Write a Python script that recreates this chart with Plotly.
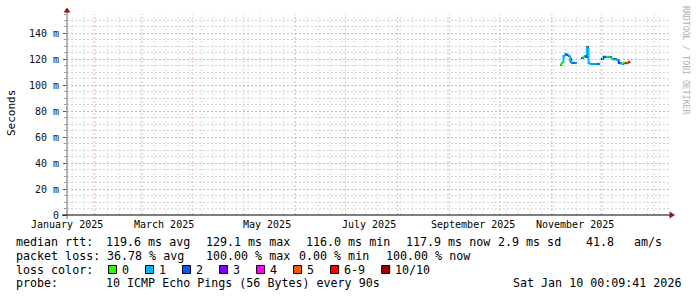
import pandas as pd
import plotly.graph_objects as go

# ---------------- data ----------------
start = pd.Timestamp("2025-01-15 21:00:00")
end = pd.Timestamp("2026-01-10 00:09:41")

month_labels = ["January 2025", "March 2025", "May 2025", "July 2025",
                "September 2025", "November 2025"]
month_label_dates = ["2025-01-15", "2025-03-15", "2025-05-15", "2025-07-15",
                     "2025-09-15", "2025-11-15"]

days = pd.date_range("2025-11-06", periods=42, freq="D")
median_ms = [116.0, 117.5, 122.5, 124.0, 123.5, 123.0, 119.0, 117.5, 117.3, 117.3,
             None, None, None, 121.0, 122.0, 122.3, 129.1, 117.5, 116.5, 116.5,
             116.5, 116.5, 116.5, 116.7, None, 120.5, 122.0, 122.0, 122.0, 122.0,
             121.5, 120.5, 120.0, 120.0, 119.5, 117.5, 117.0, 116.5, 117.5, 117.0,
             117.5, 117.9]
loss_count = [0, 0, 1, 1, 2, 1, 1, 1, 2, 1,
              10, 10, 10, 1, 0, 2, 1, 1, 1, 1,
              1, 1, 2, 1, 10, 0, 2, 1, 0, 0,
              1, 1, 1, 1, 1, 2, 1, 1, 0, 6,
              0, 6]
smoke_lo = [115.6, 117.1, 122.1, 123.6, 123.1, 122.6, 117.0, 117.1, 116.9, 116.9,
            None, None, None, 120.6, 121.6, 121.9, 121.0, 117.1, 116.1, 116.1,
            116.1, 116.1, 116.1, 116.3, None, 120.1, 121.6, 121.6, 121.6, 121.6,
            121.1, 120.1, 119.6, 119.6, 119.1, 117.1, 116.6, 116.1, 117.1, 116.6,
            117.1, 117.5]
smoke_hi = [116.4, 117.9, 122.9, 124.4, 123.9, 123.4, 121.0, 117.9, 117.7, 117.7,
            None, None, None, 121.4, 122.4, 122.7, 130.5, 117.9, 116.9, 116.9,
            116.9, 116.9, 116.9, 117.1, None, 120.9, 122.4, 122.4, 122.4, 122.4,
            121.9, 120.9, 120.4, 120.4, 119.9, 117.9, 117.4, 116.9, 117.9, 117.4,
            117.9, 118.3]

y_tick_vals = [0, 20, 40, 60, 80, 100, 120, 140]
y_tick_text = ["0", "20 m", "40 m", "60 m", "80 m", "100 m", "120 m", "140 m"]

loss_labels = ["0", "1", "2", "3", "4", "5", "6-9", "10/10"]
loss_colors = ["#26ff00", "#00b8ff", "#0059ff", "#7e00ff", "#ff00ff",
               "#ff5500", "#ff0000", "#a10000"]

rtt_stats = ["119.6 ms avg", "129.1 ms max", "116.0 ms min", "117.9 ms now",
             "2.9 ms sd", "41.8", "am/s"]
loss_stats = ["36.78 % avg", "100.00 % max", "0.00 % min", "100.00 % now"]
probe_text = "10 ICMP Echo Pings (56 Bytes) every 90s"
stamp_text = "Sat Jan 10 00:09:41 2026"

# ---------------- geometry helpers ----------------
W, H = 697, 297
L, R, T, B = 67, 669, 14, 215
FONT = "DejaVu Sans Mono"


def px(x):
    return (x - L) / (R - L)


def py(y):
    return (B - y) / (B - T)


def level_index(n):
    if n <= 5:
        return n
    if n < 10:
        return 6
    return 7


fig = go.Figure()

# smoke
one_day = pd.Timedelta(days=1)
sx, sb, sh = [], [], []
for t, lo, hi in zip(days, smoke_lo, smoke_hi):
    if lo is None:
        continue
    sx.append(t + one_day / 2)
    sb.append(lo)
    sh.append(hi - lo)
fig.add_trace(go.Bar(x=sx, y=sh, base=sb, width=one_day.total_seconds() * 1000,
                     marker=dict(color="#2a2a2a", line=dict(width=0)),
                     showlegend=False, hoverinfo="skip"))

# median coloured by loss
segs = {k: ([], []) for k in range(len(loss_colors))}
prev = None
for t, v, n in zip(days, median_ms, loss_count):
    if v is None:
        prev = None
        continue
    k = level_index(n)
    xs, ys = segs[k]
    y0 = prev if prev is not None else v
    xs += [t, t, t + one_day, None]
    ys += [y0, v, v, None]
    prev = v
for k, (xs, ys) in segs.items():
    if xs:
        fig.add_trace(go.Scatter(x=xs, y=ys, mode="lines",
                                 line=dict(color=loss_colors[k], width=2),
                                 showlegend=False, hoverinfo="skip"))

GRID_GRAY = "#d4d4d4"
GRID_RED = "#f3a9a9"
VGRID_GRAY = "#dedede"
VGRID_RED = "#f5b9b9"
DASH = "2px,2px"

fig.update_layout(
    width=W, height=H,
    margin=dict(l=L, r=W - R, t=T, b=H - B, pad=0),
    paper_bgcolor="white", plot_bgcolor="white",
    font=dict(family=FONT, color="#000000", size=10),
    showlegend=False,
    bargap=0,
    xaxis=dict(
        type="date", range=[start, end],
        showticklabels=False, showgrid=False, ticks="",
        showline=False, zeroline=False, fixedrange=True,
    ),
    yaxis=dict(
        range=[0, 155],
        tickmode="array", tickvals=y_tick_vals, ticktext=y_tick_text,
        tickfont=dict(family=FONT, size=10, color="#111111"),
        showgrid=True, gridcolor=GRID_RED, griddash=DASH, gridwidth=1,
        ticks="outside", ticklen=3, tickcolor="#555555",
        ticklabelstandoff=2,
        minor=dict(dtick=5, showgrid=True, gridcolor=GRID_GRAY,
                   griddash=DASH, ticks="outside", ticklen=2,
                   tickcolor="#999999"),
        showline=False, zeroline=False, fixedrange=True,
    ),
)

shapes = []
# vertical grid: weekly (gray) and monthly (red), placed on the date axis
week_lines = pd.date_range("2025-01-19", end, freq="7D")
month_lines = pd.date_range("2025-02-01", end, freq="MS")
for t in week_lines:
    shapes.append(dict(type="line", xref="x", yref="paper", x0=t, x1=t, y0=0, y1=1,
                       line=dict(color=VGRID_GRAY, width=1, dash=DASH), layer="below"))
for t in month_lines:
    shapes.append(dict(type="line", xref="x", yref="paper", x0=t, x1=t, y0=0, y1=1,
                       line=dict(color=VGRID_RED, width=1, dash=DASH), layer="below"))

# axis lines
shapes.append(dict(type="line", xref="paper", yref="paper",
                   x0=px(67), x1=px(67), y0=py(219), y1=py(10),
                   line=dict(color="#666666", width=1), layer="above"))
shapes.append(dict(type="line", xref="paper", yref="paper",
                   x0=px(62), x1=px(671), y0=py(215), y1=py(215),
                   line=dict(color="#000000", width=1), layer="above"))
# arrows
shapes.append(dict(type="path", xref="paper", yref="paper",
                   path=f"M {px(63.5)} {py(12.5)} L {px(70.5)} {py(12.5)} L {px(67)} {py(7.5)} Z",
                   fillcolor="#8b1a1a", line=dict(color="#8b1a1a", width=0), layer="above"))
shapes.append(dict(type="path", xref="paper", yref="paper",
                   path=f"M {px(669.5)} {py(211.5)} L {px(669.5)} {py(218.5)} L {px(675)} {py(215)} Z",
                   fillcolor="#8b1a1a", line=dict(color="#8b1a1a", width=0), layer="above"))

annotations = []


def text(x, y, s, size=11.66, color="#000000", xanchor="left", angle=0):
    annotations.append(dict(xref="paper", yref="paper", x=px(x), y=py(y), text=s,
                            showarrow=False, xanchor=xanchor, yanchor="middle",
                            textangle=angle, borderpad=0, borderwidth=0,
                            font=dict(family=FONT, size=size, color=color)))


# x-axis labels (placed on the date axis)
for lab, d in zip(month_labels, month_label_dates):
    t = pd.Timestamp(d)
    if t <= start:
        t = start + pd.Timedelta(hours=1)
    annotations.append(dict(xref="x", yref="paper", x=t, y=py(224.5), text=lab,
                            showarrow=False, xanchor="center", yanchor="middle",
                            borderpad=0, borderwidth=0,
                            font=dict(family=FONT, size=10, color="#000000")))

# axis title and watermark
text(11, 113, "Seconds", size=11, xanchor="center", angle=-90)
text(686, 60, "RRDTOOL / TOBI OETIKER", size=8.2, color="#b0b0b0",
     xanchor="center", angle=90)

# legend lines
LINE_Y = [241.5, 255.5, 269.5, 283]
text(16, LINE_Y[0], "median rtt:")
for s, x in zip(rtt_stats, [106, 206, 306, 405.5, 497.5, 586, 634]):
    text(x, LINE_Y[0], s)
text(16, LINE_Y[1], "packet loss:")
for s, x in zip(loss_stats, [106.5, 206, 299, 385.5]):
    text(x, LINE_Y[1], s)
text(16, LINE_Y[2], "loss color:")
sqx = 108.0
for lab, col in zip(loss_labels, loss_colors):
    shapes.append(dict(type="rect", xref="paper", yref="paper",
                       x0=px(sqx + 0.5), x1=px(sqx + 8.5),
                       y0=py(273.5), y1=py(265.5),
                       fillcolor=col, line=dict(color="#000000", width=1),
                       layer="above"))
    text(sqx + 14.3, LINE_Y[2], lab)
    sqx += 14.3 + len(lab) * 7.02 + 15.7
text(16, LINE_Y[3], "probe:")
text(106, LINE_Y[3], probe_text)
text(512.5, LINE_Y[3], stamp_text)

fig.update_layout(shapes=shapes, annotations=annotations)

fig.write_html("out.html", config={"displayModeBar": False})
